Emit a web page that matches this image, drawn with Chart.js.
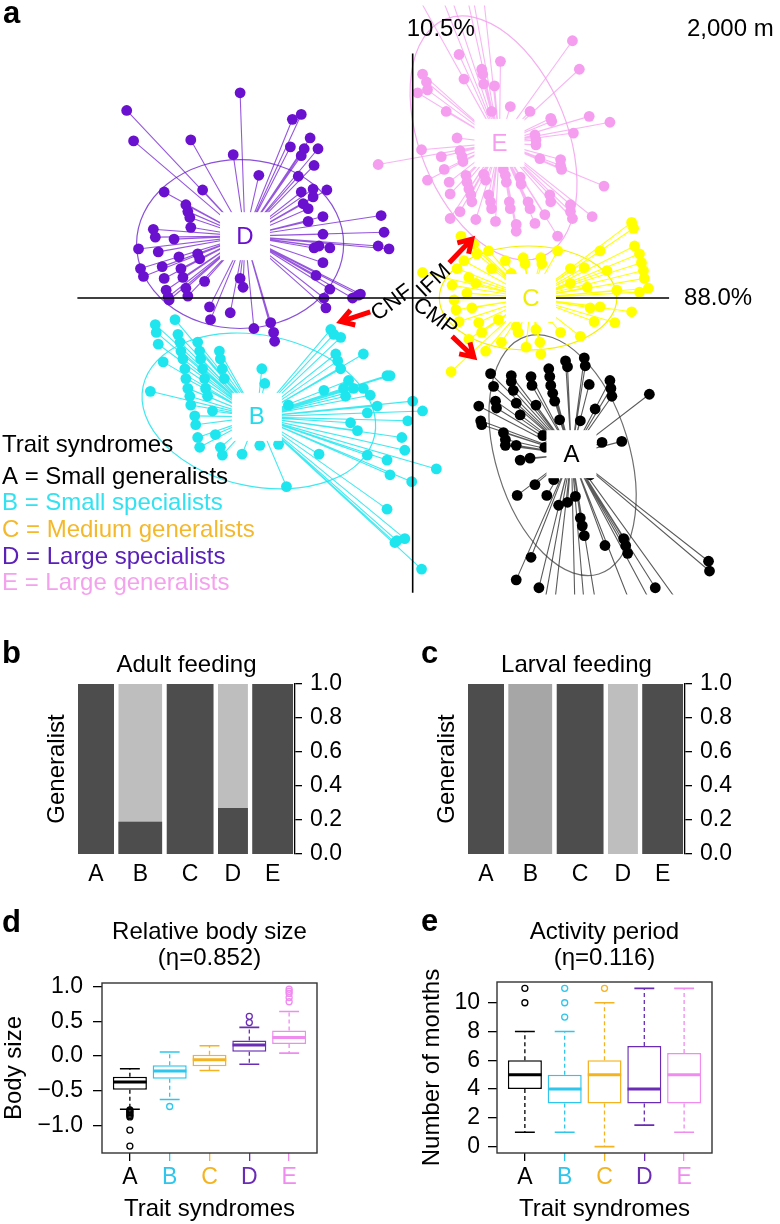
<!DOCTYPE html>
<html><head><meta charset="utf-8">
<script src="https://cdn.jsdelivr.net/npm/chart.js@4.4.1/dist/chart.umd.min.js"></script>
<style>
body{margin:0;background:#fff;}
#wrap{position:relative;width:780px;height:1224px;overflow:hidden;font-family:'Liberation Sans',Arial,Helvetica,sans-serif;}
canvas{position:absolute;}
.lab{position:absolute;font-weight:bold;font-size:31px;line-height:31px;color:#000;}
</style></head><body>
<div id="wrap">
<canvas id="ca" width="780" height="600" style="left:0px;top:0px"></canvas>
<canvas id="cb" width="390" height="250" style="left:0px;top:640px"></canvas>
<canvas id="cc" width="390" height="250" style="left:390px;top:640px"></canvas>
<canvas id="cd" width="390" height="334" style="left:0px;top:890px"></canvas>
<canvas id="ce" width="390" height="334" style="left:390px;top:890px"></canvas>
<div class="lab" style="left:3px;top:-3px">a</div>
<div class="lab" style="left:2px;top:637px">b</div>
<div class="lab" style="left:421px;top:637px">c</div>
<div class="lab" style="left:2px;top:906px">d</div>
<div class="lab" style="left:421px;top:905px">e</div>
</div>
<script>
// ---------------- DATA ----------------
const syndromes = ['A','B','C','D','E'];
const syndromeNames = ['Small generalists','Small specialists','Medium generalists','Large specialists','Large generalists'];

// Panel a: ordination scores (axis 1 = 88.0%, axis 2 = 10.5%)
const centroidX = [1.61, -1.58, 1.20, -1.70, 0.88];
const centroidY = [-1.59, -1.21, 0.00, 0.63, 1.58];
const ellCx = [1.52, -1.56, 1.17, -1.75, 0.82];
const ellCy = [-1.60, -1.15, 0.00, 0.55, 1.63];
const ellA = [1.26, 1.20, 0.90, 1.05, 1.30];
const ellB = [0.68, 0.77, 0.53, 0.86, 0.75];
const ellAngle = [-73, -12, 0, 0, -68];

const ptsA = [[1.55,-0.64],[1.57,-0.70],[1.74,-0.61],[1.75,-0.69],[0.79,-0.77],[1.00,-0.79],[1.00,-0.85],[1.20,-0.80],[1.21,-0.89],[1.38,-0.72],[1.39,-0.80],[1.40,-0.89],[1.42,-0.97],[1.44,-1.05],[1.79,-0.88],[2.00,-0.84],[2.01,-0.92],[2.02,-1.00],[0.82,-0.90],[1.02,-0.94],[0.84,-1.05],[0.85,-1.12],[1.05,-1.07],[0.67,-1.10],[1.25,-1.09],[2.40,-0.98],[0.69,-1.25],[0.70,-1.29],[1.09,-1.19],[1.49,-1.24],[1.70,-1.25],[1.85,-1.13],[0.92,-1.37],[0.94,-1.44],[0.94,-1.50],[1.05,-1.50],[1.32,-1.40],[1.34,-1.52],[1.92,-1.47],[2.12,-1.46],[1.09,-1.65],[1.19,-1.63],[1.24,-1.90],[1.06,-2.01],[1.36,-2.01],[1.43,-1.85],[1.48,-2.11],[1.57,-2.08],[1.65,-2.02],[1.70,-2.24],[1.72,-2.32],[1.74,-2.42],[1.95,-2.52],[2.14,-2.45],[2.16,-2.52],[2.18,-2.60],[1.20,-2.64],[1.05,-2.87],[1.28,-2.95],[2.46,-2.95],[3.00,-2.68],[3.01,-2.78],[1.80,-1.80],[1.23,-3.70],[1.39,-3.55],[1.66,-3.80],[1.78,-3.60],[1.96,-3.75],[2.42,-3.65],[2.67,-3.58],[3.14,-3.72]];
const ptsB = [[-2.61,-0.27],[-2.60,-0.35],[-2.58,-0.47],[-2.41,-0.22],[-2.38,-0.37],[-2.36,-0.45],[-2.35,-0.54],[-2.33,-0.62],[-2.31,-0.72],[-2.30,-0.82],[-2.28,-0.92],[-2.26,-1.00],[-2.25,-1.09],[-2.18,-0.45],[-2.16,-0.54],[-2.15,-0.62],[-2.13,-0.72],[-2.11,-0.82],[-2.10,-0.92],[-2.08,-1.00],[-1.96,-0.54],[-1.95,-0.62],[-1.93,-0.72],[-1.91,-0.82],[-2.53,-0.65],[-2.66,-0.95],[-2.21,-1.20],[-2.20,-1.29],[-2.18,-1.42],[-2.16,-1.52],[-2.03,-1.15],[-2.00,-1.39],[-1.95,-1.52],[-1.93,-1.60],[-1.73,-1.59],[-1.55,-1.50],[-1.36,-1.49],[-1.53,-0.72],[-1.50,-0.87],[-1.26,-1.09],[-0.83,-0.32],[-0.80,-0.37],[-0.73,-0.40],[-0.78,-0.57],[-0.76,-0.64],[-0.73,-0.72],[-0.65,-0.84],[-0.60,-0.92],[-0.50,-0.57],[-0.90,-0.94],[-0.70,-0.92],[-0.68,-1.00],[-0.50,-0.92],[-0.43,-0.99],[-0.36,-1.10],[-0.26,-0.79],[-0.46,-1.17],[-0.63,-1.27],[-0.56,-1.35],[-0.95,-1.59],[-0.46,-1.60],[-0.26,-1.65],[-0.23,-1.80],[-1.28,-1.92],[-0.26,-2.15],[-0.18,-2.49],[-0.23,-0.79],[0.00,-1.05],[0.10,-1.15],[-0.05,-1.25],[-0.11,-1.42],[-0.08,-1.55],[0.24,-1.74],[-0.01,-1.87],[-0.16,-2.47],[-0.08,-2.45],[0.09,-2.76]];
const ptsC = [[2.22,0.77],[2.24,0.71],[2.25,0.53],[2.30,0.45],[2.32,0.36],[2.34,0.28],[2.35,0.20],[2.39,0.10],[1.90,0.48],[1.74,0.31],[0.49,0.63],[0.62,0.55],[0.65,0.45],[0.94,0.38],[1.12,0.41],[1.14,0.35],[1.30,0.41],[1.31,0.35],[0.57,0.21],[0.64,0.15],[0.40,0.13],[0.10,0.26],[1.60,0.15],[1.77,0.11],[0.42,-0.02],[0.44,-0.12],[0.67,-0.25],[0.70,-0.35],[0.47,-0.24],[0.39,-0.75],[0.74,-0.54],[1.05,-0.29],[1.07,-0.35],[1.25,-0.32],[1.29,-0.45],[1.30,-0.57],[1.50,-0.35],[1.70,-0.39],[1.84,-0.24],[2.05,-0.25],[2.22,-0.14],[1.90,-0.09],[2.30,0.06],[0.52,0.38],[0.77,0.48],[1.47,0.48],[1.97,0.28],[2.07,0.08],[0.87,-0.22],[0.57,-0.42],[0.45,0.30],[0.55,0.05],[0.60,-0.10],[0.80,0.30],[1.00,0.25],[1.60,0.30],[1.80,-0.10],[1.40,-0.20],[0.90,-0.45],[1.15,-0.50]];
const ptsD = [[-1.75,2.09],[-2.90,1.91],[-1.13,1.87],[-1.22,1.82],[-2.83,1.60],[-2.25,1.61],[-1.82,1.46],[-1.04,1.63],[-1.24,1.54],[-1.10,1.52],[-0.96,1.52],[-1.13,1.45],[-1.00,1.35],[-1.56,1.25],[-1.16,1.24],[-2.52,1.08],[-2.13,1.10],[-1.13,1.08],[-1.01,1.11],[-0.87,1.10],[-1.01,1.03],[-2.30,0.95],[-2.28,0.88],[-2.26,0.82],[-1.11,0.96],[-1.06,0.91],[-0.91,0.83],[-0.32,0.84],[-1.06,0.78],[-2.25,0.72],[-2.63,0.70],[-2.61,0.62],[-2.42,0.60],[-0.91,0.65],[-0.29,0.67],[-2.78,0.50],[-2.58,0.47],[-2.37,0.42],[-2.18,0.45],[-2.16,0.40],[-1.00,0.51],[-0.95,0.53],[-0.84,0.51],[-0.35,0.53],[-0.24,0.50],[-0.91,0.36],[-2.76,0.30],[-2.73,0.22],[-2.54,0.32],[-2.52,0.20],[-2.35,0.30],[-2.33,0.21],[-2.11,0.17],[-1.75,0.20],[-1.72,0.11],[-0.98,0.23],[-0.84,0.09],[-2.50,0.08],[-2.48,0.01],[-2.30,0.10],[-2.28,0.02],[-0.53,0.04],[-0.61,0.00],[-0.90,0.00],[-2.47,-0.02],[-2.06,-0.09],[-2.05,-0.22],[-1.85,-0.15],[-1.61,-0.31],[-1.44,-0.25],[-1.41,-0.35],[-1.40,-0.44],[-0.88,-0.10],[-0.55,0.03]];
const ptsE = [[1.62,2.62],[1.69,2.33],[0.89,2.41],[0.70,2.33],[0.71,2.28],[0.47,2.48],[0.10,2.28],[0.14,2.20],[0.15,2.12],[0.05,2.09],[0.52,2.23],[0.72,2.18],[0.83,2.16],[0.34,1.90],[0.80,1.90],[0.99,1.95],[1.19,1.90],[1.40,1.83],[1.41,1.80],[1.79,1.85],[2.00,1.79],[1.63,1.68],[0.45,1.63],[1.24,1.66],[1.25,1.61],[1.25,1.56],[0.09,1.51],[0.48,1.50],[0.50,1.44],[0.51,1.39],[0.29,1.44],[1.29,1.42],[1.50,1.41],[1.50,1.35],[1.51,1.31],[0.32,1.31],[0.15,1.20],[0.37,1.18],[0.54,1.25],[0.55,1.18],[0.57,1.11],[0.59,1.05],[0.60,0.98],[0.72,1.26],[0.74,1.20],[0.92,1.31],[0.94,1.25],[0.95,1.18],[1.09,1.23],[1.10,1.16],[1.94,1.14],[0.38,1.06],[0.77,1.05],[0.79,0.98],[0.80,0.91],[0.98,0.98],[0.99,0.91],[1.17,0.98],[1.19,0.91],[1.39,1.05],[1.40,0.98],[1.60,0.95],[1.60,0.88],[1.62,0.81],[1.82,0.83],[0.48,0.88],[0.38,0.81],[0.64,0.80],[0.84,0.78],[1.05,0.75],[1.05,0.68],[1.24,0.76],[1.34,0.85],[1.47,0.63],[-0.35,1.36],[0.02,3.13],[0.17,3.38],[0.32,3.28],[0.47,3.43],[0.59,3.18],[0.69,3.33]];

// environmental vectors
const arrowLabels = ['CNF','IFM','CMP'];
const arrowTailX = [-0.43, 0.37, 0.40];
const arrowTailY = [-0.14, 0.36, -0.39];
const arrowTipX = [-0.73, 0.60, 0.62];
const arrowTipY = [-0.24, 0.60, -0.60];
const axisPercent = ['88.0%', '10.5%'];
const scaleText = '2,000 m';

// Panel b/c: relative group sizes and generalist proportions
const groupSize = [36, 44, 47, 30, 41];
const adultGeneralist = [1, 0.19, 1, 0.27, 1];
const adultMiddle = [0, 0, 0, 0, 0];
const larvalGeneralist = [1, 0, 1, 0, 1];
const larvalMiddle = [0, 1, 0, 0, 0];

// Panel d: relative body size
const bodyLo  = [-0.77, -0.63, -0.21, -0.12, 0.04];
const bodyQ1  = [-0.49, -0.33, -0.15, 0.06, 0.17];
const bodyMed = [-0.375, -0.22, -0.055, 0.155, 0.265];
const bodyQ3  = [-0.30, -0.135, 0.015, 0.22, 0.365];
const bodyHi  = [-0.185, 0.055, 0.145, 0.41, 0.64];
const bodyOut = [[-0.78,-0.80,-0.82,-0.84,-0.86,-0.88,-1.07,-1.30],[-0.73],[],[0.48,0.57],[0.78,0.84,0.90,0.93,0.96]];
const bodyTicks = [-1, -0.5, 0, 0.5, 1];

// Panel e: activity period (months)
const monLo  = [1, 1, 0, 1.5, 1];
const monQ1  = [4, 3, 3, 3, 3];
const monMed = [5, 4, 5, 4, 5];
const monQ3  = [6, 5, 6, 7, 6.5];
const monHi  = [8, 8, 10, 11, 11];
const monOut = [[10,11],[9,10,11],[11],[],[]];
const monTicks = [0, 2, 4, 6, 8, 10];

// ---------------- STYLE ----------------
const FONT = "'Liberation Sans', Arial, Helvetica, sans-serif";
Chart.defaults.font.family = FONT;
Chart.defaults.color = '#000';
Chart.defaults.animation = false;
Chart.defaults.plugins.legend.display = false;
Chart.defaults.plugins.tooltip.enabled = false;

const TICK = 23, TXT = 24;
const dotColors = ['#000000', '#1fe6ee', '#ffff00', '#6a10cf', '#f59ef0'];
const spokeColors = ['rgba(50,50,50,0.8)', 'rgba(31,230,238,0.85)', 'rgba(255,255,0,0.95)', 'rgba(106,16,207,0.7)', 'rgba(245,158,240,0.75)'];
const ellColors = ['#6e6e6e', '#3ee8ef', '#f5f000', '#8a50d8', '#f5aef0'];
const letterColors = ['#000000', '#22dcee', '#f0ee00', '#6a10cf', '#f59ef0'];
const legendColors = ['#000000', '#33e2f0', '#f4b82c', '#5a20b8', '#f5a2ee'];
const boxColors = ['#000000', '#2ec6ec', '#f4b321', '#6a2cb5', '#f08cf0'];
const DARK = '#4d4d4d', MID = '#a6a6a6', LIGHT = '#bebebe';

// ---------------- PANEL A ----------------
const clusters = [ptsA, ptsB, ptsC, ptsD, ptsE];
const dotOrder = [0, 3, 1, 4, 2];
const aSets = [];
clusters.forEach((pts, k) => {
  const spokes = [];
  pts.forEach(([x, y]) => {
    spokes.push({x: centroidX[k], y: centroidY[k]}, {x: x, y: y}, {x: centroidX[k], y: null});
  });
  aSets.push({type: 'line', data: spokes, borderColor: spokeColors[k], borderWidth: 1.1, pointRadius: 0, spanGaps: false, order: 10 + k});
  aSets.push({type: 'scatter', data: pts.map(([x, y]) => ({x, y})), pointRadius: 5.4, pointBackgroundColor: dotColors[k], pointBorderColor: dotColors[k], pointBorderWidth: 0, order: dotOrder[k]});
});

function drawArrow(ctx, x0, y0, x1, y1) {
  const ang = Math.atan2(y1 - y0, x1 - x0), L = 15, w = 0.55;
  ctx.beginPath();
  ctx.moveTo(x0, y0); ctx.lineTo(x1, y1);
  ctx.moveTo(x1 - L * Math.cos(ang - w), y1 - L * Math.sin(ang - w));
  ctx.lineTo(x1, y1);
  ctx.lineTo(x1 - L * Math.cos(ang + w), y1 - L * Math.sin(ang + w));
  ctx.stroke();
}

const panelAPlugin = {
  id: 'panelA',
  beforeDatasetsDraw(chart) {
    const {ctx, scales: {x, y}} = chart;
    ctx.save();
    for (let k = 0; k < 5; k++) {
      const cx = x.getPixelForValue(ellCx[k]), cy = y.getPixelForValue(ellCy[k]);
      const rx = x.getPixelForValue(ellCx[k] + ellA[k]) - cx;
      const ry = y.getPixelForValue(ellCy[k]) - y.getPixelForValue(ellCy[k] + ellB[k]);
      ctx.beginPath();
      ctx.ellipse(cx, cy, rx, ry, -ellAngle[k] * Math.PI / 180, 0, 2 * Math.PI);
      ctx.strokeStyle = ellColors[k]; ctx.lineWidth = 1.2; ctx.stroke();
    }
    ctx.restore();
  },
  afterDatasetsDraw(chart) {
    const {ctx, scales: {x, y}} = chart;
    const px = v => x.getPixelForValue(v), py = v => y.getPixelForValue(v);
    ctx.save();
    // axes
    ctx.strokeStyle = '#000'; ctx.lineWidth = 1.6;
    ctx.beginPath();
    ctx.moveTo(px(-3.40), py(0)); ctx.lineTo(px(2.60), py(0));
    ctx.moveTo(px(0), py(2.49)); ctx.lineTo(px(0), py(-3.00));
    ctx.stroke();
    // centroid labels
    ctx.font = '24px ' + FONT; ctx.textAlign = 'center'; ctx.textBaseline = 'middle';
    for (let k = 0; k < 5; k++) {
      const cx = px(centroidX[k]), cy = py(centroidY[k]);
      ctx.fillStyle = '#ffffff';
      ctx.fillRect(cx - 25, cy - 24, 50, 48);
      ctx.fillStyle = letterColors[k];
      ctx.fillText(syndromes[k], cx, cy + 1);
    }
    // arrows
    ctx.strokeStyle = '#ff0000'; ctx.lineWidth = 5; ctx.lineJoin = 'miter'; ctx.lineCap = 'butt';
    for (let i = 0; i < 3; i++) drawArrow(ctx, px(arrowTailX[i]), py(arrowTailY[i]), px(arrowTipX[i]), py(arrowTipY[i]));
    // arrow labels
    const lab = [[392, 303, -37], [434, 281, -43], [435, 317, 37]];
    ctx.fillStyle = '#000'; ctx.font = '22px ' + FONT;
    lab.forEach(([lx, ly, a], i) => {
      ctx.save(); ctx.translate(lx, ly); ctx.rotate(a * Math.PI / 180);
      ctx.fillText(arrowLabels[i], 0, 0); ctx.restore();
    });
    // axis labels
    ctx.font = '24px ' + FONT; ctx.textAlign = 'left';
    ctx.fillText(axisPercent[1], px(0) - 6, 29);
    ctx.fillText(scaleText, 687, 29);
    ctx.fillText(axisPercent[0], px(2.60) + 15, py(0));
    // legend
    ctx.fillText('Trait syndromes', 2, 445);
    const ly = [477, 503, 530, 557, 583];
    for (let k = 0; k < 5; k++) {
      ctx.fillStyle = legendColors[k];
      ctx.fillText(syndromes[k] + ' = ' + syndromeNames[k], 2, ly[k]);
    }
    ctx.restore();
  }
};

new Chart(document.getElementById('ca'), {
  type: 'scatter',
  data: {datasets: aSets},
  options: {
    responsive: false, animation: false,
    layout: {padding: 0},
    scales: {
      x: {type: 'linear', display: false, min: -4.13, max: 3.67},
      y: {type: 'linear', display: false, min: -3.02, max: 2.98}
    },
    plugins: {legend: {display: false}, tooltip: {enabled: false}}
  },
  plugins: [panelAPlugin]
});

// ---------------- PANELS B, C ----------------
const BAR_GAP = 4.3;
function barPanel(id, title, generalist, middle) {
  const starts = []; let acc = 0;
  groupSize.forEach(w => { starts.push(acc); acc += w + BAR_GAP; });
  const xMax = acc - BAR_GAP + 1.8;
  const centers = starts.map((s, i) => s + groupSize[i] / 2);
  const sets = [];
  groupSize.forEach((w, i) => {
    const x0 = starts[i], x1 = starts[i] + w;
    const layers = [[1, LIGHT, 3], [generalist[i] + middle[i], MID, 2], [generalist[i], DARK, 1]];
    layers.forEach(([v, col, ord]) => {
      if (v > 0) sets.push({type: 'line', data: [{x: x0, y: v}, {x: x1, y: v}], fill: 'origin', backgroundColor: col, borderColor: 'rgba(0,0,0,0)', borderWidth: 0, pointRadius: 0, order: ord, yAxisID: 'y'});
    });
  });
  new Chart(document.getElementById(id), {
    type: 'line',
    data: {datasets: sets},
    options: {
      responsive: false, animation: false,
      plugins: {
        legend: {display: false}, tooltip: {enabled: false},
        title: {display: true, text: title, fullSize: false, color: '#000', font: {size: TXT, weight: 'normal'}, padding: {top: 10.6, bottom: 4.6}}
      },
      scales: {
        x: {type: 'linear', min: 0, max: xMax,
            afterBuildTicks: s => { s.ticks = centers.map(v => ({value: v})); },
            ticks: {autoSkip: false, maxRotation: 0, callback: (v, i) => syndromes[i], font: {size: TICK}, padding: 7, color: '#000'},
            grid: {display: false, drawTicks: false}, border: {display: false},
            afterFit: s => { s.height = 36; }},
        y: {type: 'linear', position: 'right', min: 0, max: 1,
            ticks: {stepSize: 0.2, callback: v => v.toFixed(1), font: {size: TICK}, padding: 8, color: '#000'},
            grid: {display: true, drawOnChartArea: false, drawTicks: true, tickLength: 7, color: '#000', lineWidth: 1.3},
            border: {display: true, color: '#000', width: 1.3},
            afterFit: s => { s.width = 95; }},
        yL: {type: 'linear', position: 'left', min: 0, max: 1,
             ticks: {display: false}, grid: {display: false, drawTicks: false}, border: {display: false},
             title: {display: true, text: 'Generalist', color: '#000', font: {size: TXT}, padding: {top: 42.6, bottom: 0}},
             afterFit: s => { s.width = 78; }}
      }
    }
  });
}
barPanel('cb', 'Adult feeding', adultGeneralist, adultMiddle);
barPanel('cc', 'Larval feeding', larvalGeneralist, larvalMiddle);

// ---------------- PANELS D, E ----------------
const framePlugin = {
  id: 'frame',
  afterDatasetsDraw(chart) {
    const {ctx, chartArea: a} = chart;
    ctx.save(); ctx.strokeStyle = '#333'; ctx.lineWidth = 1.4;
    ctx.strokeRect(a.left, a.top, a.right - a.left, a.bottom - a.top);
    ctx.restore();
  }
};

function boxPanel(id, c) {
  const CAP = 0.25, HALF = 0.42;
  const sets = [];
  sets.push({type: 'bar', data: syndromes.map((s, i) => ({x: i + 1, y: [c.q1[i], c.q3[i]]})),
    backgroundColor: '#ffffff', borderColor: boxColors, borderWidth: 1.5, borderSkipped: false,
    categoryPercentage: 0.855, barPercentage: 1, order: 5});
  syndromes.forEach((s, i) => {
    const xi = i + 1, col = boxColors[i];
    sets.push({type: 'line', data: [{x: xi, y: c.q3[i]}, {x: xi, y: c.hi[i]}, {x: xi, y: null}, {x: xi, y: c.q1[i]}, {x: xi, y: c.lo[i]}],
      borderColor: col, borderWidth: 1.3, borderDash: [4, 3], pointRadius: 0, spanGaps: false, order: 4});
    sets.push({type: 'line', data: [{x: xi - CAP, y: c.hi[i]}, {x: xi + CAP, y: c.hi[i]}, {x: xi, y: null}, {x: xi - CAP, y: c.lo[i]}, {x: xi + CAP, y: c.lo[i]}],
      borderColor: col, borderWidth: 1.6, pointRadius: 0, spanGaps: false, order: 3});
    sets.push({type: 'line', data: [{x: xi - HALF, y: c.med[i]}, {x: xi + HALF, y: c.med[i]}],
      borderColor: col, borderWidth: 3, pointRadius: 0, order: 1});
    if (c.out[i].length) sets.push({type: 'scatter', data: c.out[i].map(v => ({x: xi, y: v})),
      pointRadius: 3, pointBorderWidth: 1.3, pointBorderColor: col, pointBackgroundColor: 'rgba(0,0,0,0)', order: 0});
  });
  new Chart(document.getElementById(id), {
    type: 'scatter',
    data: {datasets: sets},
    options: {
      responsive: false, animation: false,
      layout: {padding: {right: c.padRight}},
      plugins: {
        legend: {display: false}, tooltip: {enabled: false},
        title: {display: true, text: c.title, fullSize: false, color: '#000', font: {size: TXT, weight: 'normal', lineHeight: 26 / TXT}, padding: {top: 29, bottom: c.titleBottom}}
      },
      scales: {
        x: {type: 'linear', min: 0.3, max: 5.7, offset: false,
            afterBuildTicks: s => { s.ticks = syndromes.map((_, i) => ({value: i + 1})); },
            ticks: {autoSkip: false, maxRotation: 0, callback: (v, i) => syndromes[i], color: ctx => boxColors[ctx.index], font: {size: TICK}, padding: 3},
            grid: {display: true, offset: false, drawOnChartArea: false, drawTicks: true, tickLength: 8, color: ctx => boxColors[ctx.index], lineWidth: 1.3},
            border: {display: false},
            title: {display: true, text: 'Trait syndromes', color: '#000', font: {size: TXT}, padding: {top: 0, bottom: 0}},
            afterFit: s => { s.height = 71; }},
        y: {type: 'linear', min: c.yMin, max: c.yMax,
            afterBuildTicks: s => { s.ticks = c.yTicks.map(v => ({value: v})); },
            ticks: {autoSkip: false, callback: c.fmt, font: {size: TICK}, padding: c.tickPad, color: '#000'},
            grid: {display: true, drawOnChartArea: false, drawTicks: true, tickLength: 9, color: '#000', lineWidth: 1.3},
            border: {display: false},
            title: {display: true, text: c.yTitle, color: '#000', font: {size: TXT}, padding: {top: c.yTitlePad, bottom: 0}},
            afterFit: s => { s.width = c.yWidth; }}
      }
    },
    plugins: [framePlugin]
  });
}

boxPanel('cd', {
  title: ['Relative body size', '(\u03b7=0.852)'], titleBottom: 12, padRight: 73,
  lo: bodyLo, q1: bodyQ1, med: bodyMed, q3: bodyQ3, hi: bodyHi, out: bodyOut,
  yMin: -1.40, yMax: 1.05, yTicks: bodyTicks,
  fmt: v => (v < 0 ? '\u2212' : '') + Math.abs(v).toFixed(1),
  tickPad: 10, yTitle: 'Body size', yTitlePad: 0, yWidth: 102
});
boxPanel('ce', {
  title: ['Activity period', '(\u03b7=0.116)'], titleBottom: 11, padRight: 68,
  lo: monLo, q1: monQ1, med: monMed, q3: monQ3, hi: monHi, out: monOut,
  yMin: -0.44, yMax: 11.44, yTicks: monTicks,
  fmt: v => String(v),
  tickPad: 8, yTitle: 'Number of months', yTitlePad: 27.6, yWidth: 107
});
</script>
</body></html>
